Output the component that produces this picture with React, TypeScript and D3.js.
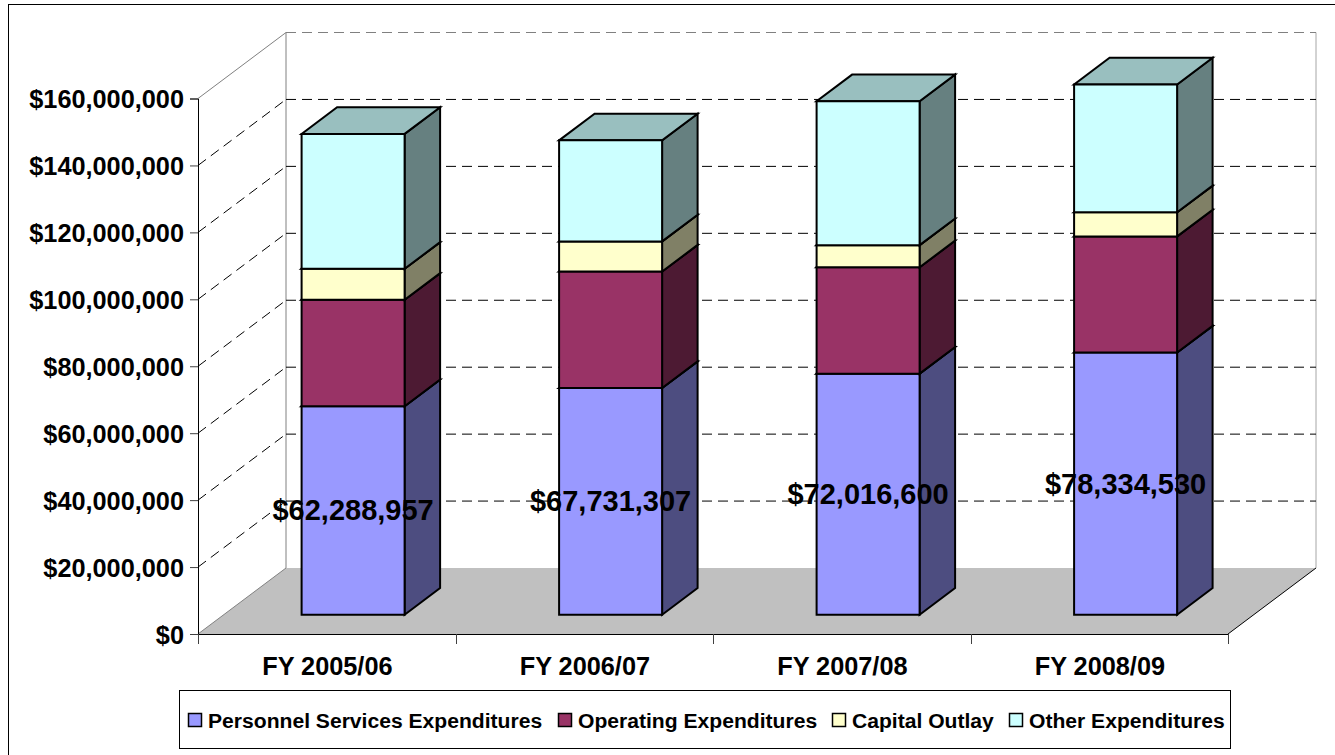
import { useEffect, useRef } from 'react';
import * as d3 from 'd3';

const categories = ['FY 2005/06', 'FY 2006/07', 'FY 2007/08', 'FY 2008/09'];
const personnel = [62288957, 67731307, 72016600, 78334530];
const operating = [31800000, 34800000, 31800000, 34700000];
const capital = [9260000, 9000000, 6600000, 7200000];
const other = [40300000, 30200000, 43000000, 38200000];

const seriesNames = ['Personnel Services Expenditures', 'Operating Expenditures', 'Capital Outlay', 'Other Expenditures'];
const seriesValues = [personnel, operating, capital, other];
const frontColors = ['#9999ff', '#993366', '#ffffcc', '#ccffff'];
const sideColors = ['#4d4d80', '#4d1a33', '#808066', '#668080'];
const topColors = ['#7373bf', '#73264d', '#bfbf99', '#99bfbf'];
const yTicks = [0, 20000000, 40000000, 60000000, 80000000, 100000000, 120000000, 140000000, 160000000];
const legendSwatchX = [188, 558, 832, 1009];

const FONT = '"Liberation Sans", Arial, sans-serif';

const App = () => {
  const ref = useRef<SVGSVGElement>(null);

  useEffect(() => {
    const svg = d3.select(ref.current);
    svg.selectAll('*').remove();

    const xScale = d3.scaleBand().domain(categories).range([198.6, 1228.6]).paddingInner(0.6).paddingOuter(0.3);
    const yScale = d3.scaleLinear().domain([0, 160000000]).range([634, 98.5]);

    // oblique projection: d is 0 at the front of the floor, 1 at the back wall
    const depthX = d3.scaleLinear().domain([0, 1]).range([0, 88]);
    const depthY = d3.scaleLinear().domain([0, 1]).range([0, -66]);
    const project = (x: number, y: number, d: number): [number, number] => [x + depthX(d), y + depthY(d)];
    const poly = d3.line().curve(d3.curveLinearClosed);

    const barFront = 0.2926;
    const barBack = 0.696;

    svg.append('rect')
      .attr('x', 8.5).attr('y', 4.5).attr('width', 1340).attr('height', 760)
      .attr('fill', '#fff').attr('stroke', '#000').attr('stroke-width', 1);

    const x0 = 198;
    const x1 = 1228;
    const yBottom = yScale(0);
    const yTop = yScale(160000000);

    // floor
    svg.append('path')
      .attr('d', poly([project(x0, yBottom, 0), project(x0, yBottom, 1), project(x1, yBottom, 1), project(x1, yBottom, 0)]))
      .attr('fill', '#c0c0c0');

    // wall edges
    const edges: [number, number, number, number, number, number, string][] = [
      [x0, yBottom, 1, x0, yTop, 1, '#808080'],
      [x1, yBottom, 1, x1, yTop, 1, '#a6a6a6'],
      [x0, yTop, 0, x0, yTop, 1, '#808080'],
      [x0, yBottom, 0, x0, yBottom, 1, '#808080'],
      [x1, yBottom, 0, x1, yBottom, 1, '#000'],
    ];
    edges.forEach(([ax, ay, ad, bx, by, bd, color]) => {
      const a = project(ax, ay, ad);
      const b = project(bx, by, bd);
      svg.append('line')
        .attr('x1', a[0]).attr('y1', a[1]).attr('x2', b[0]).attr('y2', b[1])
        .attr('stroke', color).attr('stroke-width', 1);
    });

    // gridlines on both walls
    const gridG = svg.append('g').attr('stroke', '#000').attr('stroke-width', 1).attr('stroke-dasharray', '10,6');
    yTicks.slice(1).forEach(t => {
      const a = project(x0, yScale(t), 0);
      const b = project(x0, yScale(t), 1);
      const c = project(x1, yScale(t), 1);
      const isTop = t === 160000000;
      if (!isTop) {
        gridG.append('line').attr('x1', a[0]).attr('y1', a[1]).attr('x2', b[0]).attr('y2', b[1]);
      }
      gridG.append('line')
        .attr('x1', b[0]).attr('y1', b[1]).attr('x2', c[0]).attr('y2', c[1])
        .attr('stroke', isTop ? '#808080' : '#000');
    });

    // axes
    const yAxis = d3.axisLeft(yScale)
      .tickValues(yTicks)
      .tickSize(8)
      .tickPadding(6)
      .tickFormat(d3.format('$,.0f') as any);
    const yG = svg.append('g').attr('transform', `translate(${x0},0)`).call(yAxis as any);
    yG.select('.domain').attr('stroke', '#000');
    yG.selectAll('.tick line').attr('stroke', '#404040');
    yG.selectAll('.tick text')
      .attr('dy', '0.37em')
      .attr('font-family', FONT).attr('font-size', 25.3).attr('font-weight', 700).attr('fill', '#000');

    const xAxis = d3.axisBottom(xScale).tickSize(0).tickPadding(23);
    const xG = svg.append('g').attr('transform', `translate(0,${yBottom})`).call(xAxis as any);
    xG.select('.domain').remove();
    xG.selectAll('.tick text')
      .attr('font-family', FONT).attr('font-size', 25.3).attr('font-weight', 700).attr('fill', '#000');

    svg.append('line')
      .attr('x1', x0).attr('x2', x1).attr('y1', yBottom + 0.5).attr('y2', yBottom + 0.5)
      .attr('stroke', '#000');
    const step = xScale.step();
    d3.range(categories.length + 1).forEach(i => {
      const tx = Math.round(x0 + i * step) + 0.5;
      svg.append('line')
        .attr('x1', tx).attr('x2', tx).attr('y1', yBottom).attr('y2', yBottom + 10)
        .attr('stroke', '#404040');
    });

    // stacked 3d columns
    const rows = categories.map((c, i) => {
      const row: Record<string, number | string> = { category: c };
      seriesNames.forEach((s, j) => { row[s] = seriesValues[j][i]; });
      return row;
    });
    const stacked = d3.stack<any>().keys(seriesNames)(rows);

    stacked.forEach((layer, s) => {
      layer.forEach((seg, i) => {
        const left = xScale(categories[i]) as number;
        const right = left + xScale.bandwidth();
        const lo = yScale(seg[0]);
        const hi = yScale(seg[1]);
        const g = svg.append('g').attr('stroke', '#000').attr('stroke-width', 2).attr('stroke-linejoin', 'miter');
        g.append('path')
          .attr('d', poly([project(right, lo, barFront), project(right, lo, barBack), project(right, hi, barBack), project(right, hi, barFront)]))
          .attr('fill', sideColors[s]);
        g.append('path')
          .attr('d', poly([project(left, hi, barFront), project(right, hi, barFront), project(right, hi, barBack), project(left, hi, barBack)]))
          .attr('fill', topColors[s]);
        g.append('path')
          .attr('d', poly([project(left, lo, barFront), project(right, lo, barFront), project(right, hi, barFront), project(left, hi, barFront)]))
          .attr('fill', frontColors[s]);
      });
    });

    // data labels for the first series
    categories.forEach((c, i) => {
      const cx = (xScale(c) as number) + xScale.bandwidth() / 2;
      const [lx, ly] = project(cx, yScale(personnel[i] / 2), barFront);
      svg.append('text')
        .attr('x', lx).attr('y', ly + 10)
        .attr('text-anchor', 'middle')
        .attr('font-family', FONT).attr('font-size', 29).attr('font-weight', 700).attr('fill', '#000')
        .text(d3.format('$,.0f')(personnel[i]));
    });

    // legend
    svg.append('rect')
      .attr('x', 179.5).attr('y', 690.5).attr('width', 1051).attr('height', 58)
      .attr('fill', '#fff').attr('stroke', '#000');
    seriesNames.forEach((name, i) => {
      svg.append('rect')
        .attr('x', legendSwatchX[i] + 0.5).attr('y', 713.5).attr('width', 13).attr('height', 13)
        .attr('fill', frontColors[i]).attr('stroke', '#000').attr('stroke-width', 1.5);
      svg.append('text')
        .attr('x', legendSwatchX[i] + 20).attr('y', 728)
        .attr('font-family', FONT).attr('font-size', 21.1).attr('font-weight', 700).attr('fill', '#000')
        .text(name);
    });
  }, []);

  return <svg ref={ref} width={1335} height={755} style={{ position: 'absolute', left: 0, top: 0 }} />;
};

export default App;
